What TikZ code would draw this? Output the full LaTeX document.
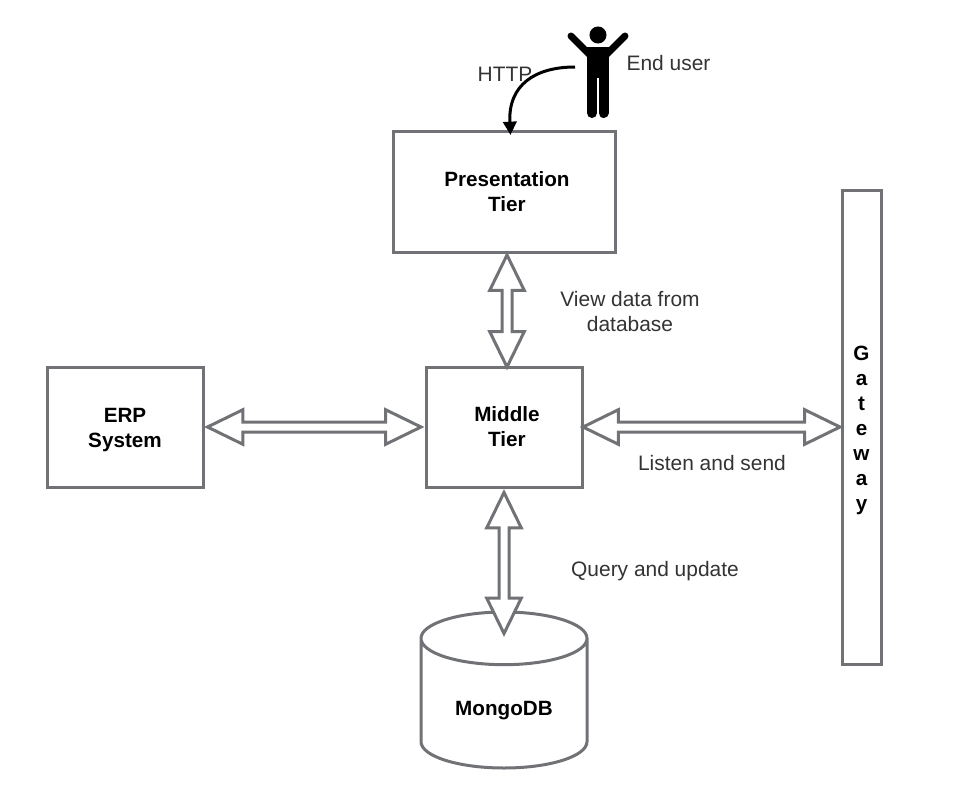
\documentclass[tikz,border=0pt]{standalone}
\usepackage{fontspec}
\setmainfont{Liberation Sans}
\usetikzlibrary{arrows.meta,calc,shapes.geometric}
\definecolor{tiergray}{HTML}{707276}
\newcommand{\offcentre}{\hspace*{4.5pt}}

\begin{document}
\begin{tikzpicture}[x=0.75pt,y=-0.75pt,
                    tier/.style={draw=tiergray,line width=2.25pt,fill=white,inner sep=0pt,outer sep=0pt,
                                 align=center,font=\fontsize{15.5}{18.75}\selectfont\bfseries},
                    store/.style={tier,cylinder,shape border rotate=90,shape aspect=0.54,anchor=shape center,
                                  cylinder uses custom fill,cylinder end fill=white,cylinder body fill=white},
                    link/.style={draw=tiergray,line width=2.25pt,fill=white,miter limit=10},
                    note/.style={align=center,inner sep=0pt,text=black!80,font=\fontsize{15.7}{18.75}\selectfont},
                    person/.style={black,line width=5.2pt,line cap=round}]
  \path[use as bounding box] (0,0) rectangle (954,800);

  \node[tier,minimum width=166.5pt,minimum height=90.75pt] (presentation) at (504,191.5) {\offcentre Presentation\\\offcentre Tier};
  \node[tier,minimum width=117pt,minimum height=90pt] (middle) at (504,427) {\offcentre Middle\\\offcentre Tier};
  \node[tier,minimum width=117pt,minimum height=90pt] (erp) at (125,427) {\rule{0pt}{15pt}ERP\\System};
  \node[tier,minimum width=29.25pt,minimum height=355.5pt] (gateway) at (861.5,427) {\rule{0pt}{15.5pt}G\\a\\t\\e\\w\\a\\y};
  \node[store,minimum width=124.5pt,minimum height=117pt] (mongo) at (504,690) {\rule{0pt}{20pt}MongoDB};

  % tips of the wide arrows
  \coordinate (viewtop) at ($ (presentation.south) + (3,3) $);
  \coordinate (viewbottom) at ($ (middle.north) + (3,0) $);
  \coordinate (erpout) at ($ (erp.east) + (4.5,0) $);
  \coordinate (erpin) at ($ (middle.west) + (-5,0) $);
  \coordinate (gatewayout) at ($ (middle.east) + (1,0) $);
  \coordinate (gatewayin) at ($ (gateway.west) + (-2,0) $);
  \coordinate (mongoout) at ($ (middle.south) + (0,5.5) $);
  \coordinate (mongoin) at ($ (mongo.north) + (0,21.5) $);
  \coordinate (enduser) at (575,67);
  \coordinate (httpin) at (510.5,135);

  \foreach \from/\to in {viewtop/viewbottom,erpout/erpin,gatewayout/gatewayin,mongoout/mongoin} {
    \draw[link] (\from)
      -- ($ (\from) ! 26.6pt ! (\to) ! 13pt ! 90:(\to) $)
      -- ($ (\from) ! 26.6pt ! (\to) ! 3.75pt ! 90:(\to) $)
      -- ($ (\to) ! 26.6pt ! (\from) ! 3.75pt ! -90:(\from) $)
      -- ($ (\to) ! 26.6pt ! (\from) ! 13pt ! -90:(\from) $)
      -- (\to)
      -- ($ (\to) ! 26.6pt ! (\from) ! 13pt ! 90:(\from) $)
      -- ($ (\to) ! 26.6pt ! (\from) ! 3.75pt ! 90:(\from) $)
      -- ($ (\from) ! 26.6pt ! (\to) ! 3.75pt ! -90:(\to) $)
      -- ($ (\from) ! 26.6pt ! (\to) ! 13pt ! -90:(\to) $)
      -- cycle;
  }

  % end user
  \fill (598,35) circle [radius=6.4pt];
  \draw[person] (571,36) -- (590,55);
  \draw[person] (625,36) -- (606,55);
  \fill (587,47) -- (609,47) -- (609,78) -- (587,78) -- cycle;
  \draw[person,line width=7.5pt] (592,70) -- (592,113);
  \draw[person,line width=7.5pt] (603.5,70) -- (603.5,113);

  \draw[line width=2.25pt,-{Triangle[length=10pt,width=10pt]}] (enduser) .. controls (535,67) and (508,85) .. (httpin);

  \node[note] (httplabel) at (505,74) {HTTP};
  \node[note] (userlabel) at (668.5,63) {End user};
  \node[note] (viewlabel) at (630,311.5) {View data from\\database};
  \node[note] (listenlabel) at (712,463) {Listen and send};
  \node[note] (querylabel) at (655,571) {Query and update};
\end{tikzpicture}
\end{document}
